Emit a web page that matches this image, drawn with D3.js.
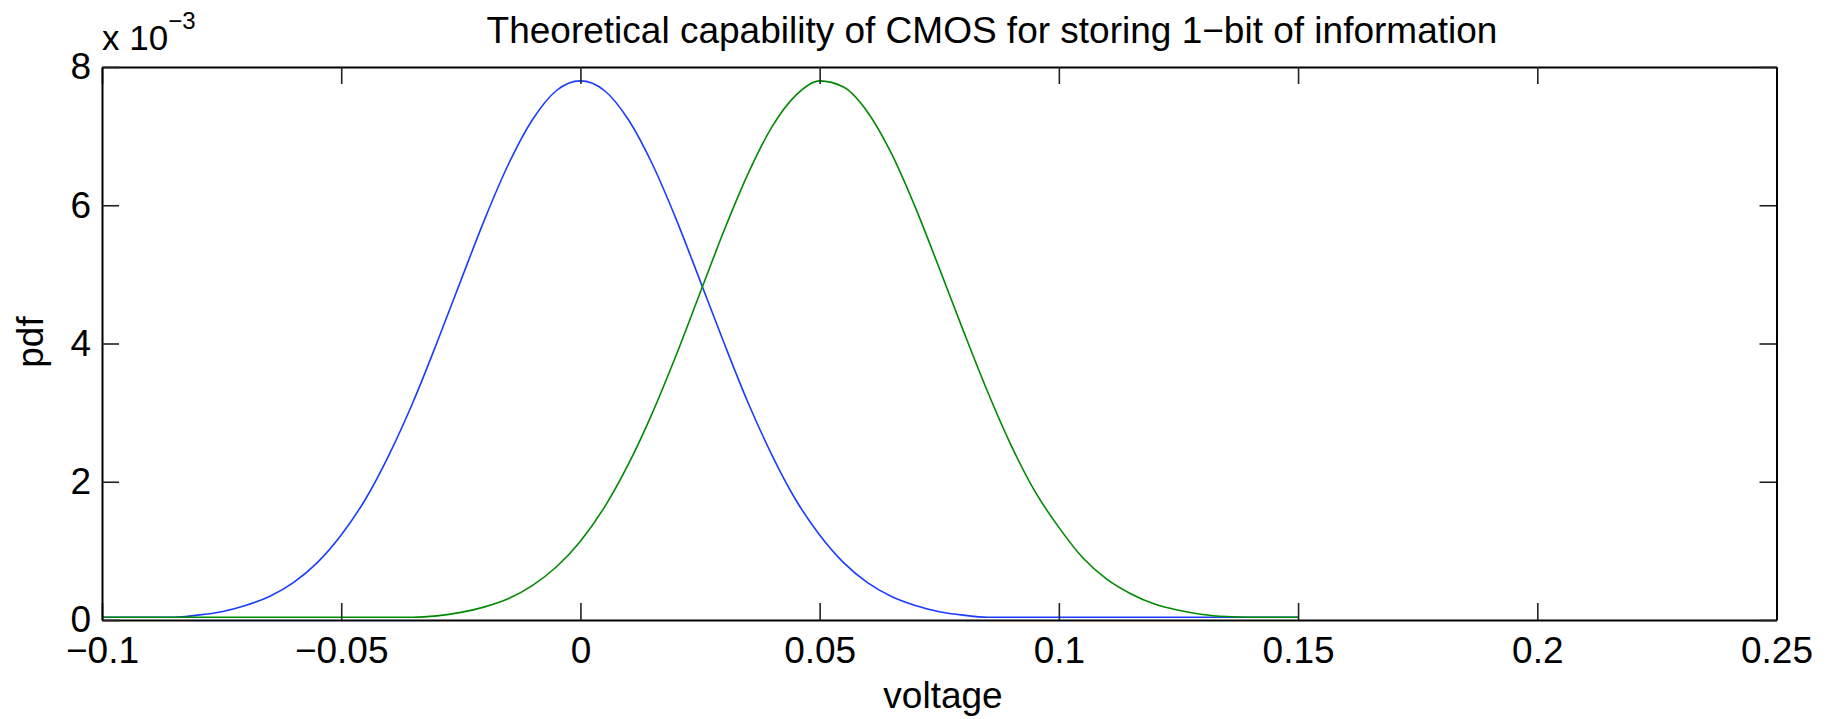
<!DOCTYPE html>
<html>
<head>
<meta charset="utf-8">
<script src="https://cdn.jsdelivr.net/npm/d3@7"></script>
<style>
  body { margin: 0; background: #fff; }
  svg text { font-family: "Liberation Sans", Arial, Helvetica, sans-serif; fill: #000; }
</style>
</head>
<body>
<div id="chart"></div>
<script>
// voltage grid (x) shared by both curves
const voltage = [
  -0.1, -0.095, -0.09, -0.085, -0.08, -0.075, -0.07, -0.065, -0.06, -0.055,
  -0.05, -0.045, -0.04, -0.035, -0.03, -0.025, -0.02, -0.015, -0.01, -0.005,
  0, 0.005, 0.01, 0.015, 0.02, 0.025, 0.03, 0.035, 0.04, 0.045,
  0.05, 0.055, 0.06, 0.065, 0.07, 0.075, 0.08, 0.085, 0.09, 0.095,
  0.1, 0.105, 0.11, 0.115, 0.12, 0.125, 0.13, 0.135, 0.14, 0.145, 0.15
];

// pdf values, in units of 1e-3
const pdfLow = [
  0.04, 0.04, 0.04, 0.04, 0.07, 0.12, 0.21, 0.34, 0.54, 0.83,
  1.23, 1.74, 2.39, 3.15, 4.01, 4.91, 5.80, 6.60, 7.24, 7.66,
  7.80, 7.66, 7.24, 6.60, 5.80, 4.91, 4.01, 3.15, 2.39, 1.74,
  1.23, 0.83, 0.54, 0.34, 0.21, 0.12, 0.07, 0.04, 0.04, 0.04,
  0.04, 0.04, 0.04, 0.04, 0.04, 0.04, 0.04, 0.04, 0.04, 0.04, 0.04
];
const pdfHigh = [
  0.04, 0.04, 0.04, 0.04, 0.04, 0.04, 0.04, 0.04, 0.04, 0.04,
  0.04, 0.04, 0.04, 0.04, 0.06, 0.11, 0.19, 0.31, 0.50, 0.77,
  1.14, 1.63, 2.25, 2.99, 3.83, 4.73, 5.63, 6.45, 7.13, 7.59,
  7.80, 7.71, 7.35, 6.75, 5.97, 5.09, 4.19, 3.32, 2.53, 1.86,
  1.34, 0.90, 0.59, 0.38, 0.23, 0.14, 0.08, 0.05, 0.04, 0.04, 0.04
];

const xTicks = [-0.1, -0.05, 0, 0.05, 0.1, 0.15, 0.2, 0.25];
const yTicks = [0, 2, 4, 6, 8];

const width = 1826, height = 719;
const margin = { top: 67, right: 49.5, bottom: 99, left: 102 };

const svg = d3.select("#chart").append("svg")
    .attr("width", width)
    .attr("height", height);

const x = d3.scaleLinear().domain([-0.1, 0.25]).range([margin.left, width - margin.right]);
const y = d3.scaleLinear().domain([0, 8]).range([height - margin.bottom, margin.top]);

const fmt = d3.format("~g");
const tickLen = 17;

// curves
const series = [
  { values: pdfLow, color: "#1a3cff" },
  { values: pdfHigh, color: "#008a00" }
];
const line = d3.line()
    .x((d, i) => x(voltage[i]))
    .y(d => y(d))
    .curve(d3.curveMonotoneX);

svg.append("g").selectAll("path")
    .data(series)
    .enter()
    .append("path")
    .attr("d", d => line(d.values))
    .attr("fill", "none")
    .attr("stroke", d => d.color)
    .attr("stroke-width", 1.6);

// axes (ticks point inward)
const axBottom = svg.append("g")
    .attr("transform", "translate(0," + y(0) + ")")
    .call(d3.axisBottom(x).tickValues(xTicks).tickFormat(fmt).tickSizeInner(-tickLen).tickSizeOuter(0).tickPadding(17));
const axTop = svg.append("g")
    .attr("transform", "translate(0," + y(8) + ")")
    .call(d3.axisTop(x).tickValues(xTicks).tickFormat("").tickSizeInner(-tickLen).tickSizeOuter(0));
const axLeft = svg.append("g")
    .attr("transform", "translate(" + x(-0.1) + ",0)")
    .call(d3.axisLeft(y).tickValues(yTicks).tickFormat(fmt).tickSizeInner(-tickLen).tickSizeOuter(0).tickPadding(11));
const axRight = svg.append("g")
    .attr("transform", "translate(" + x(0.25) + ",0)")
    .call(d3.axisRight(y).tickValues(yTicks).tickFormat("").tickSizeInner(-tickLen).tickSizeOuter(0));

[axBottom, axTop, axLeft, axRight].forEach(g => {
  g.select(".domain").attr("stroke", "#000").attr("stroke-width", 2);
  g.selectAll(".tick line").attr("stroke", "#222").attr("stroke-width", 1.6);
  g.selectAll(".tick text").style("font-size", "37px");
});
axBottom.selectAll(".tick text").attr("dy", "0.71em");

// title and labels
svg.append("text")
    .attr("x", 992)
    .attr("y", 43)
    .attr("text-anchor", "middle")
    .style("font-size", "37px")
    .text("Theoretical capability of CMOS for storing 1\u2212bit of information");

svg.append("text")
    .attr("x", 943)
    .attr("y", 708)
    .attr("text-anchor", "middle")
    .style("font-size", "37px")
    .text("voltage");

svg.append("text")
    .attr("transform", "translate(43,342) rotate(-90)")
    .attr("text-anchor", "middle")
    .style("font-size", "37px")
    .text("pdf");

// exponent note
const expo = svg.append("text")
    .attr("x", 102)
    .attr("y", 50)
    .style("font-size", "35px");
expo.append("tspan").text("x 10");
expo.append("tspan")
    .attr("dy", -21)
    .style("font-size", "24px")
    .text("\u22123");
</script>
</body>
</html>
